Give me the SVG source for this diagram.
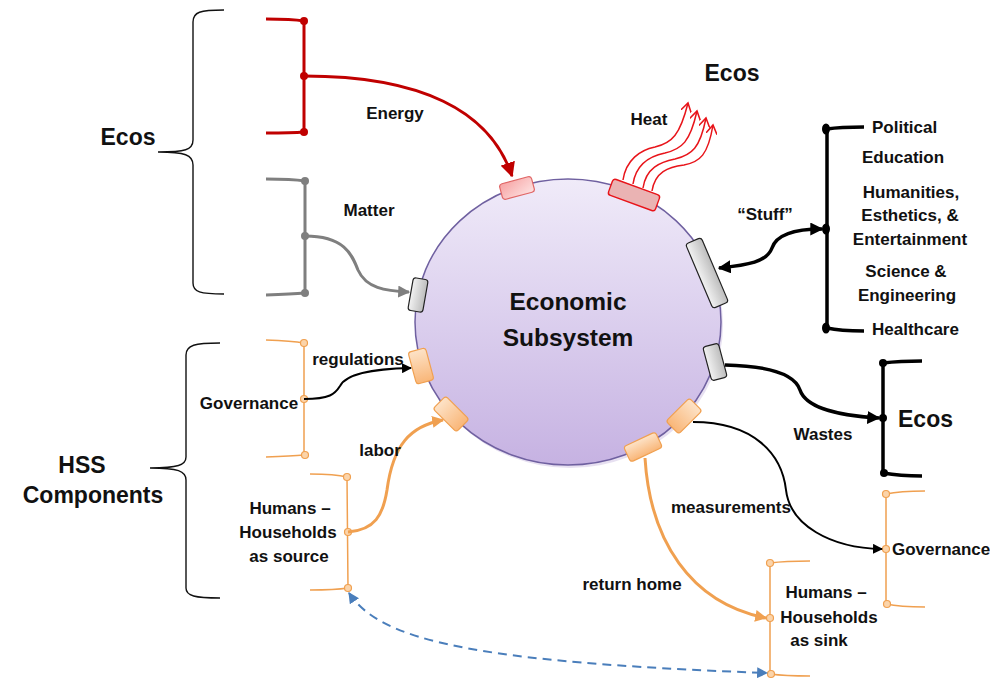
<svg xmlns="http://www.w3.org/2000/svg" width="990" height="680" viewBox="0 0 990 680">
  <style>
    text { font-family: "Liberation Sans", Arial, sans-serif; font-weight: bold; fill: #111; }
    .lbl { font-size: 17px; }
    .big { font-size: 23px; }
    .brace { fill: none; stroke: #111; stroke-width: 1.4; }
    .red { fill: none; stroke: #c00000; stroke-width: 3; }
    .gray { fill: none; stroke: #7f7f7f; stroke-width: 3; }
    .blk { fill: none; stroke: #000; stroke-width: 3.5; }
    .org { fill: none; stroke: #f0a050; stroke-width: 1.5; }
    .dot-red { fill: #c00000; }
    .dot-gray { fill: #7f7f7f; }
    .dot-blk { fill: #000; }
    .dot-org { fill: #fbd4aa; stroke: #f0a050; stroke-width: 1.2; }
    .port-org { fill: url(#gOrg); stroke: #f0a050; stroke-width: 1.2; }
    .port-gray { fill: url(#gGray); stroke: #222; stroke-width: 1.2; }
    .heat { fill: none; stroke: #e8141a; stroke-width: 1.5; }
  </style>
  <defs>
    <linearGradient id="gCore" x1="0" y1="0" x2="0" y2="1">
      <stop offset="0" stop-color="#f0ebf9"/>
      <stop offset="1" stop-color="#c6b2e2"/>
    </linearGradient>
    <linearGradient id="gOrg" x1="0" y1="0" x2="0" y2="1">
      <stop offset="0" stop-color="#fde3c8"/>
      <stop offset="1" stop-color="#f9b678"/>
    </linearGradient>
    <linearGradient id="gGray" x1="0" y1="0" x2="1" y2="0">
      <stop offset="0" stop-color="#f2f2f2"/>
      <stop offset="1" stop-color="#bdbdbd"/>
    </linearGradient>
    <linearGradient id="gPink" x1="0" y1="0" x2="1" y2="1">
      <stop offset="0" stop-color="#f7a3a3"/>
      <stop offset="1" stop-color="#fde2e2"/>
    </linearGradient>
    <marker id="aRed" viewBox="0 0 10 10" refX="9" refY="5" markerUnits="userSpaceOnUse" markerWidth="15" markerHeight="15" orient="auto">
      <path d="M0,0 L10,5 L0,10 z" fill="#c00000"/>
    </marker>
    <marker id="aGray" viewBox="0 0 10 10" refX="9" refY="5" markerUnits="userSpaceOnUse" markerWidth="12" markerHeight="12" orient="auto">
      <path d="M0,0 L10,5 L0,10 z" fill="#7f7f7f"/>
    </marker>
    <marker id="aBlk" viewBox="0 0 10 10" refX="9" refY="5" markerUnits="userSpaceOnUse" markerWidth="13" markerHeight="13" orient="auto-start-reverse">
      <path d="M0,0 L10,5 L0,10 z" fill="#000"/>
    </marker>
    <marker id="aBlkS" viewBox="0 0 10 10" refX="9" refY="5" markerUnits="userSpaceOnUse" markerWidth="10" markerHeight="10" orient="auto">
      <path d="M0,0 L10,5 L0,10 z" fill="#000"/>
    </marker>
    <marker id="aOrg" viewBox="0 0 10 10" refX="9" refY="5" markerUnits="userSpaceOnUse" markerWidth="12" markerHeight="12" orient="auto">
      <path d="M0,0 L10,5 L0,10 z" fill="#f0a050"/>
    </marker>
    <marker id="aBlue" viewBox="0 0 10 10" refX="9" refY="5" markerUnits="userSpaceOnUse" markerWidth="11" markerHeight="11" orient="auto-start-reverse">
      <path d="M0,0 L10,5 L0,10 z" fill="#4a7ebb"/>
    </marker>
    <marker id="aHeat" viewBox="0 0 10 10" refX="8" refY="5" markerUnits="userSpaceOnUse" markerWidth="11" markerHeight="11" orient="auto">
      <path d="M0,0 L8,5 L0,10" fill="none" stroke="#e8141a" stroke-width="1.4"/>
    </marker>
  </defs>

  <rect width="990" height="680" fill="#fff"/>

  <!-- group braces -->
  <g id="ecos-brace">
    <path class="brace" d="M224,10 C200,10 193,12 193,22 L193,140 C193,150 185,152 158,152 C185,152 193,155 193,165 L193,283 C193,292 200,294 224,294"/>
    <text class="big" x="128" y="145" text-anchor="middle">Ecos</text>
  </g>
  <g id="hss-brace">
    <path class="brace" d="M220,343 C195,343 186,345 186,355 L186,457 C186,465 178,468 150,468 C178,468 186,471 186,480 L186,588 C186,596 195,598 220,598"/>
    <text class="big" x="82" y="473" text-anchor="middle">HSS</text>
    <text class="big" x="93" y="503" text-anchor="middle">Components</text>
  </g>

  <!-- economic subsystem -->
  <g id="economy">
    <ellipse cx="570" cy="325" rx="153" ry="143" fill="#b9a7d6" opacity="0.35"/>
    <ellipse cx="568" cy="322" rx="153" ry="143" fill="url(#gCore)" stroke="#6f60a0" stroke-width="1.5"/>
    <text x="568" y="310" text-anchor="middle" style="font-size:24.5px">Economic</text>
    <text x="568" y="346" text-anchor="middle" style="font-size:24.5px">Subsystem</text>
  </g>

  <!-- ports on the boundary -->
  <g id="ports">
    <rect x="-16.5" y="-8" width="33" height="16" rx="3" transform="translate(517,188) rotate(-15)" fill="url(#gPink)" stroke="#e06666" stroke-width="1.2"/>
    <rect x="-25" y="-8.5" width="50" height="17" rx="3" transform="translate(634,195) rotate(20)" fill="#eab3b3" stroke="#e8141a" stroke-width="1.4"/>
    <rect x="-7.5" y="-16.5" width="15" height="33" rx="3" transform="translate(418,295) rotate(10)" class="port-gray"/>
    <rect x="-8.5" y="-35" width="17" height="70" rx="3" transform="translate(707,273) rotate(-23)" class="port-gray"/>
    <rect x="-8" y="-17.5" width="16" height="35" rx="3" transform="translate(715,362) rotate(-15)" class="port-gray"/>
    <rect x="-9" y="-16.5" width="18" height="33" rx="3" transform="translate(421,366) rotate(-15)" class="port-org"/>
    <rect x="-9" y="-16.5" width="18" height="33" rx="3" transform="translate(451,414) rotate(-45)" class="port-org"/>
    <rect x="-9" y="-16.5" width="18" height="33" rx="3" transform="translate(684,416) rotate(45)" class="port-org"/>
    <rect x="-17.5" y="-8.5" width="35" height="17" rx="3" transform="translate(643,447) rotate(-25)" class="port-org"/>
  </g>

  <!-- source and sink brackets -->
  <g id="energy-source">
    <path class="red" d="M266,19 Q292,19 304,21 L304,132 Q292,133 266,133"/>
    <circle class="dot-red" cx="304" cy="21" r="4"/>
    <circle class="dot-red" cx="304" cy="76" r="4"/>
    <circle class="dot-red" cx="304" cy="132" r="4"/>
  </g>
  <g id="matter-source">
    <path class="gray" d="M266,179 Q292,179 305,181 L305,293 Q292,294 266,295"/>
    <circle class="dot-gray" cx="305" cy="181" r="4"/>
    <circle class="dot-gray" cx="305" cy="236" r="4"/>
    <circle class="dot-gray" cx="305" cy="293" r="4"/>
  </g>
  <g id="stuff-sectors">
    <path class="blk" d="M864,127 Q840,127 827,129 L827,328 Q840,331 864,331"/>
    <ellipse class="dot-blk" cx="826" cy="129" rx="4" ry="5.5"/>
    <ellipse class="dot-blk" cx="826" cy="229" rx="4" ry="5.5"/>
    <ellipse class="dot-blk" cx="826" cy="328" rx="4" ry="5.5"/>
    <text class="lbl" x="872" y="133">Political</text>
    <text class="lbl" x="903" y="163" text-anchor="middle">Education</text>
    <text class="lbl" x="911" y="198" text-anchor="middle">Humanities,</text>
    <text class="lbl" x="910" y="221" text-anchor="middle">Esthetics, &amp;</text>
    <text class="lbl" x="910" y="245" text-anchor="middle">Entertainment</text>
    <text class="lbl" x="906" y="277" text-anchor="middle">Science &amp;</text>
    <text class="lbl" x="907" y="301" text-anchor="middle">Engineering</text>
    <text class="lbl" x="872" y="335">Healthcare</text>
  </g>
  <g id="waste-sink">
    <path class="blk" d="M922,361 Q900,361 883,363 L883,473 Q900,476 922,476"/>
    <circle class="dot-blk" cx="883" cy="363" r="4"/>
    <circle class="dot-blk" cx="883" cy="418" r="4"/>
    <circle class="dot-blk" cx="884" cy="473" r="4"/>
    <text class="big" x="898" y="427">Ecos</text>
  </g>
  <g id="heat-sink">
    <text class="big" x="732" y="81" text-anchor="middle">Ecos</text>
  </g>
  <g id="governance-left">
    <path class="org" d="M266,340 Q292,341 304,343 L304,455 Q292,456 266,457"/>
    <circle class="dot-org" cx="304" cy="343" r="3.5"/>
    <circle class="dot-org" cx="304" cy="399" r="3.5"/>
    <circle class="dot-org" cx="305" cy="455" r="3.5"/>
    <text class="lbl" x="249" y="409" text-anchor="middle">Governance</text>
  </g>
  <g id="households-source">
    <path class="org" d="M310,474 Q335,474 347,477 L348,588 Q335,590 310,590"/>
    <circle class="dot-org" cx="347" cy="477" r="3.5"/>
    <circle class="dot-org" cx="348" cy="532" r="3.5"/>
    <circle class="dot-org" cx="348" cy="588" r="3.5"/>
    <text class="lbl" x="290" y="514" text-anchor="middle">Humans –</text>
    <text class="lbl" x="288" y="538" text-anchor="middle">Households</text>
    <text class="lbl" x="289" y="562" text-anchor="middle">as source</text>
  </g>
  <g id="governance-right">
    <path class="org" d="M925,491 Q900,491 886,494 L886,604 Q900,607 925,607"/>
    <circle class="dot-org" cx="886" cy="494" r="3.5"/>
    <circle class="dot-org" cx="886" cy="549" r="3.5"/>
    <circle class="dot-org" cx="887" cy="604" r="3.5"/>
    <text class="lbl" x="892" y="555">Governance</text>
  </g>
  <g id="households-sink">
    <path class="org" d="M810,561 Q785,561 770,563 L770,674 Q785,676 810,676"/>
    <circle class="dot-org" cx="770" cy="563" r="3.5"/>
    <circle class="dot-org" cx="770" cy="618" r="3.5"/>
    <circle class="dot-org" cx="771" cy="674" r="3.5"/>
    <text class="lbl" x="826" y="598" text-anchor="middle">Humans –</text>
    <text class="lbl" x="829" y="623" text-anchor="middle">Households</text>
    <text class="lbl" x="819" y="646" text-anchor="middle">as sink</text>
  </g>

  <!-- flows -->
  <g id="connectors">
    <path d="M304,76 C420,76 490,110 512,176" fill="none" stroke="#c00000" stroke-width="3" marker-end="url(#aRed)"/>
    <path d="M305,236 C345,236 352,255 358,270 C366,288 385,291 409,292" fill="none" stroke="#7f7f7f" stroke-width="3" marker-end="url(#aGray)"/>
    <path class="heat" d="M623,180 C626,160 640,150 655,147 C672,143 680,135 688,103" marker-end="url(#aHeat)"/>
    <path class="heat" d="M633,184 C636,164 650,156 665,153 C682,149 690,142 697,111" marker-end="url(#aHeat)"/>
    <path class="heat" d="M643,188 C646,168 660,162 675,159 C692,155 700,148 706,118" marker-end="url(#aHeat)"/>
    <path class="heat" d="M652,191 C655,172 668,167 684,165 C700,162 708,155 713,125" marker-end="url(#aHeat)"/>
    <path d="M822,229 C790,229 776,236 772,248 C767,262 748,265 719,268" fill="none" stroke="#000" stroke-width="3.5" marker-start="url(#aBlk)" marker-end="url(#aBlk)"/>
    <path d="M725,365 C770,366 795,375 800,390 C806,408 840,416 879,418" fill="none" stroke="#000" stroke-width="3.5" marker-end="url(#aBlk)"/>
    <path d="M304,399 C330,399 335,394 340,386 C346,374 370,369 411,368" fill="none" stroke="#000" stroke-width="2" marker-end="url(#aBlkS)"/>
    <path d="M348,532 C375,530 383,515 387,490 C393,445 410,426 443,420" fill="none" stroke="#f0a050" stroke-width="3" marker-end="url(#aOrg)"/>
    <path d="M693,422 C755,422 782,455 786,490 C790,525 830,548 882,549" fill="none" stroke="#000" stroke-width="2" marker-end="url(#aBlkS)"/>
    <path d="M645,458 C650,540 690,603 766,618" fill="none" stroke="#f0a050" stroke-width="3" marker-end="url(#aOrg)"/>
    <path d="M349,593 C380,640 470,662 767,673" fill="none" stroke="#4a7ebb" stroke-width="2" stroke-dasharray="9,6" marker-start="url(#aBlue)" marker-end="url(#aBlue)"/>
  </g>

  <!-- flow labels -->
  <g id="flow-labels">
    <text class="lbl" x="395" y="119" text-anchor="middle">Energy</text>
    <text class="lbl" x="369" y="216" text-anchor="middle">Matter</text>
    <text class="lbl" x="649" y="125" text-anchor="middle">Heat</text>
    <text class="lbl" x="765" y="220" text-anchor="middle">“Stuff”</text>
    <text class="lbl" x="823" y="440" text-anchor="middle">Wastes</text>
    <text class="lbl" x="358" y="365" text-anchor="middle">regulations</text>
    <text class="lbl" x="380" y="456" text-anchor="middle">labor</text>
    <text class="lbl" x="731" y="513" text-anchor="middle">measurements</text>
    <text class="lbl" x="632" y="590" text-anchor="middle">return home</text>
  </g>
</svg>
